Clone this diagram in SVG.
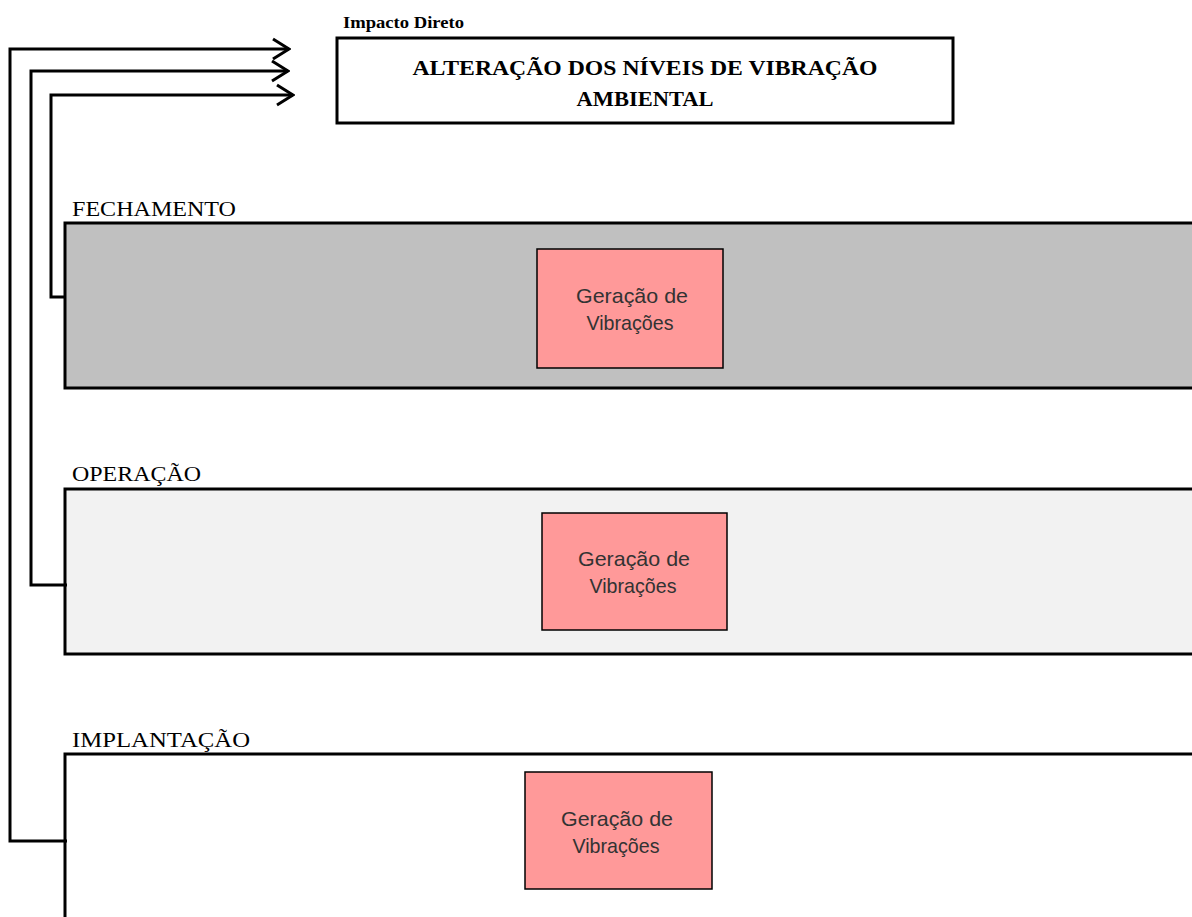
<svg xmlns="http://www.w3.org/2000/svg" width="1192" height="917" viewBox="0 0 1192 917">
  <defs>
    <marker id="chev" viewBox="0 0 20 24" markerWidth="20" markerHeight="24" refX="18" refY="12" markerUnits="userSpaceOnUse" orient="auto">
      <polyline points="2,2 18,12 2,22" fill="none" stroke="#000" stroke-width="3"/>
    </marker>
  </defs>
  <style>
    .band { stroke: #000; stroke-width: 3; }
    .phase { font-family: "Liberation Serif", "Times New Roman", serif; font-size: 21px; fill: #000; }
    .gen { fill: #ff9999; stroke: #000; stroke-width: 1.5; }
    .gen-text { font-family: "Liberation Sans", Arial, sans-serif; font-size: 21px; fill: #333; text-anchor: middle; }
    .title { font-family: "Liberation Serif", "Times New Roman", serif; font-size: 22px; font-weight: bold; fill: #000; text-anchor: middle; }
    .link { fill: none; stroke: #000; stroke-width: 3; }
  </style>
  <rect width="1192" height="917" fill="#fff"/>

  <!-- Direct impact box -->
  <g id="impact">
    <text x="343" y="28" font-family="'Liberation Serif', 'Times New Roman', serif" font-size="17" font-weight="bold" textLength="121" lengthAdjust="spacingAndGlyphs">Impacto Direto</text>
    <rect x="337" y="38" width="616" height="85" fill="#fff" stroke="#000" stroke-width="3"/>
    <text class="title" x="645" y="75" textLength="465" lengthAdjust="spacingAndGlyphs">ALTERAÇÃO DOS NÍVEIS DE VIBRAÇÃO</text>
    <text class="title" x="645" y="106" textLength="137" lengthAdjust="spacingAndGlyphs">AMBIENTAL</text>
  </g>

  <!-- Phase: closure -->
  <g id="fechamento">
    <text class="phase" x="72" y="216" textLength="164" lengthAdjust="spacingAndGlyphs">FECHAMENTO</text>
    <rect class="band" x="65" y="223" width="1140" height="165" fill="#c0c0c0"/>
    <g id="gen-fechamento">
      <rect class="gen" x="537" y="249" width="186" height="119"/>
      <text class="gen-text" x="632" y="303" textLength="112" lengthAdjust="spacingAndGlyphs">Geração de</text>
      <text class="gen-text" x="630" y="330" textLength="87" lengthAdjust="spacingAndGlyphs">Vibrações</text>
    </g>
  </g>

  <!-- Phase: operation -->
  <g id="operacao">
    <text class="phase" x="72" y="481" textLength="129" lengthAdjust="spacingAndGlyphs">OPERAÇÃO</text>
    <rect class="band" x="65" y="489" width="1140" height="165" fill="#f2f2f2"/>
    <g id="gen-operacao">
      <rect class="gen" x="542" y="513" width="185" height="117"/>
      <text class="gen-text" x="634" y="566" textLength="112" lengthAdjust="spacingAndGlyphs">Geração de</text>
      <text class="gen-text" x="633" y="593" textLength="87" lengthAdjust="spacingAndGlyphs">Vibrações</text>
    </g>
  </g>

  <!-- Phase: implementation -->
  <g id="implantacao">
    <text class="phase" x="72" y="747" textLength="178" lengthAdjust="spacingAndGlyphs">IMPLANTAÇÃO</text>
    <rect class="band" x="65" y="754" width="1140" height="200" fill="#fff"/>
    <g id="gen-implantacao">
      <rect class="gen" x="525" y="772" width="187" height="117"/>
      <text class="gen-text" x="617" y="826" textLength="112" lengthAdjust="spacingAndGlyphs">Geração de</text>
      <text class="gen-text" x="616" y="853" textLength="87" lengthAdjust="spacingAndGlyphs">Vibrações</text>
    </g>
  </g>

  <!-- Connectors from each phase to the impact -->
  <g id="connectors">
    <polyline class="link" points="67,841 10,841 10,49 289,49" marker-end="url(#chev)"/>
    <polyline class="link" points="67,585 31,585 31,71 288,71" marker-end="url(#chev)"/>
    <polyline class="link" points="65,297 51,297 51,95 293,95" marker-end="url(#chev)"/>
  </g>
</svg>
